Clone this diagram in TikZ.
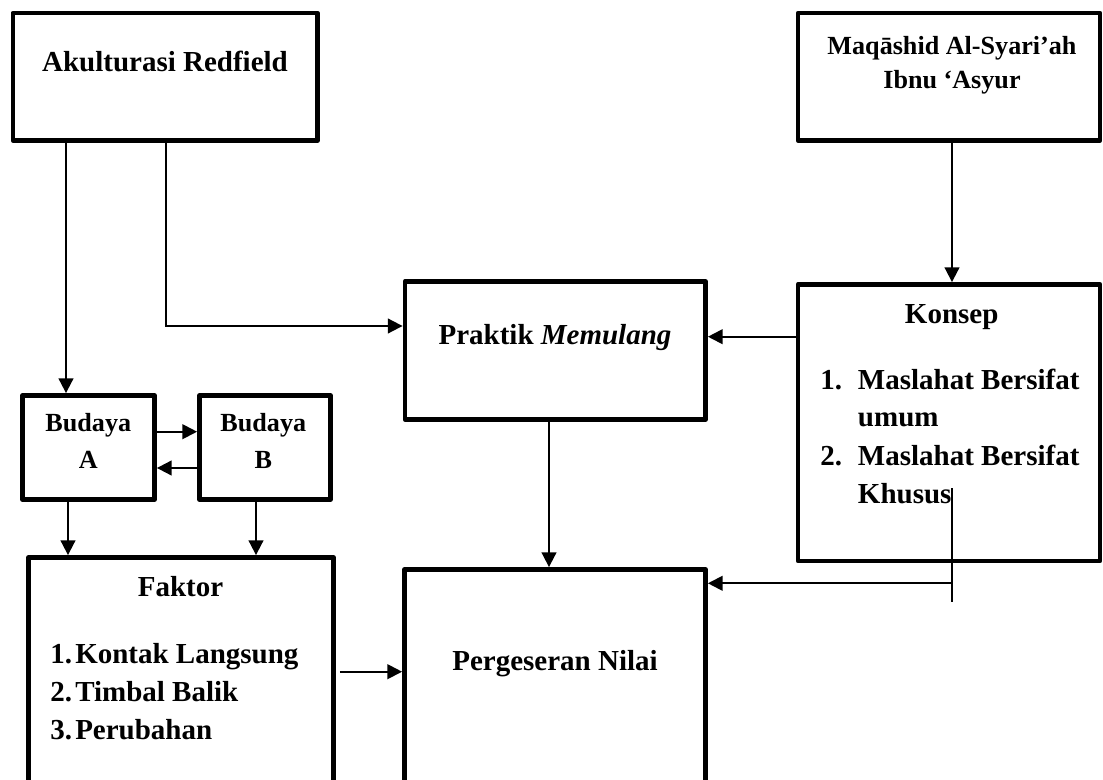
\documentclass[tikz,border=0pt]{standalone}
\usepackage{fontspec}
\setmainfont{Liberation Serif}
\usetikzlibrary{arrows.meta}
\tikzset{
  box/.style={draw, line width=3.6pt, inner sep=0pt, line join=round},
  arr/.style={line width=1.4pt, -{Triangle[length=11pt,width=11pt]}},
  conn/.style={line width=1.4pt},
  txt/.style={inner sep=0pt, anchor=base, font=\fontsize{21.75}{26}\selectfont\bfseries},
  txtl/.style={txt, anchor=base west},
  stxt/.style={txt, font=\fontsize{19.6}{24}\selectfont\bfseries},
}
\begin{document}
\begin{tikzpicture}[x=0.75pt,y=-0.75pt]
\useasboundingbox (0,0) rectangle (1103,780);
\fill[white] (0,0) rectangle (1103,780);
\clip (0,0) rectangle (1103,780);

% boxes
\node[box, minimum width=228.4pt, minimum height=95.6pt] (akul) at (165.25,76.75) {};
\node[box, minimum width=226.5pt, minimum height=95.6pt] (maq) at (949,76.75) {};
\node[box, minimum width=226.5pt, minimum height=207.4pt] (konsep) at (949,422.75) {};
\node[box, minimum width=225.4pt, minimum height=103.5pt] (praktik) at (555.25,350.5) {};
\node[box, minimum width=99pt, minimum height=78pt] (budA) at (88.5,447.5) {};
\node[box, minimum width=98.25pt, minimum height=78pt] (budB) at (265,447.5) {};
\node[box, minimum width=228.75pt, minimum height=181.9pt] (faktor) at (181,678.75) {};
\node[box, minimum width=225.75pt, minimum height=172.9pt] (perg) at (555,684.75) {};

% texts
\node[txt] (takul) at (165,71.7) {Akulturasi Redfield};
\node[stxt] (tmaq1) at (952,55) {Maqāshid Al-Syari’ah};
\node[stxt] (tmaq2) at (952,88.3) {Ibnu ‘Asyur};
\node[txt] (tkonsep) at (951.7,323.3) {Konsep};
\node[txtl] (tk1n) at (820,389.3) {1.};
\node[txtl] (tk1) at (857.7,389.3) {Maslahat Bersifat};
\node[txtl] (tk1b) at (857.7,426.7) {umum};
\node[txtl] (tk2n) at (820,465) {2.};
\node[txtl] (tk2) at (857.7,465) {Maslahat Bersifat};
\node[txtl] (tk2b) at (857.7,503) {Khusus};
\node[txt] (tprak) at (555,345) {Praktik \textit{Memulang}};
\node[txt] (tperg) at (555,670) {Pergeseran Nilai};
\node[stxt] (tbA1) at (88.3,431.7) {Budaya};
\node[stxt] (tbA2) at (88.3,468.3) {A};
\node[stxt] (tbB1) at (263.3,431.7) {Budaya};
\node[stxt] (tbB2) at (263.3,468.3) {B};
\node[txt] (tfak) at (180.5,596.7) {Faktor};
\node[txtl] (tf1n) at (50,663.3) {1.};
\node[txtl] (tf1) at (75,663.3) {Kontak Langsung};
\node[txtl] (tf2n) at (50,701.7) {2.};
\node[txtl] (tf2) at (75,701.7) {Timbal Balik};
\node[txtl] (tf3n) at (50,739.3) {3.};
\node[txtl] (tf3) at (75,739.3) {Perubahan};

% helper coordinates
\coordinate (xa) at (66,0);
\coordinate (xb) at (165.7,0);
\coordinate (yb) at (0,326);
\coordinate (xc) at (952,0);
\coordinate (yd) at (0,336.7);
\coordinate (xe) at (549,0);
\coordinate (yf) at (0,431.7);
\coordinate (yg) at (0,468);
\coordinate (xg) at (68,0);
\coordinate (xh) at (256,0);
\coordinate (yh) at (0,671.7);
\coordinate (yi) at (0,583.3);
\coordinate (kt) at (952,488);
\coordinate (kb) at (952,602);

% connectors
\draw[arr] (akul.south -| xa) -- (budA.north -| xa);
\draw[arr] (akul.south -| xb) |- (praktik.west |- yb);
\draw[arr] (maq.south -| xc) -- (konsep.north -| xc);
\draw[arr] (konsep.west |- yd) -- (praktik.east |- yd);
\draw[arr] (praktik.south -| xe) -- (perg.north -| xe);
\draw[arr] (budA.east |- yf) -- (budB.west |- yf);
\draw[arr] (budB.west |- yg) -- (budA.east |- yg);
\draw[arr] (budA.south -| xg) -- (faktor.north -| xg);
\draw[arr] (budB.south -| xh) -- (faktor.north -| xh);
\draw[arr, shorten <=3pt] (faktor.east |- yh) -- (perg.west |- yh);
\draw[conn] (kt) -- (kb);
\draw[arr] (kt |- yi) -- (perg.east |- yi);
\end{tikzpicture}
\end{document}
